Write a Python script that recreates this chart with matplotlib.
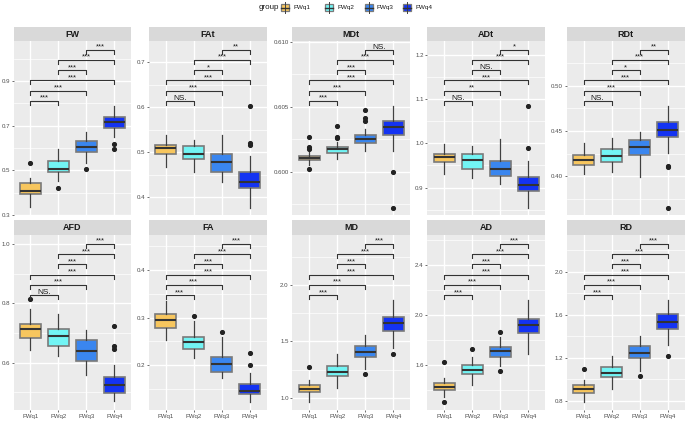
import matplotlib
matplotlib.use("Agg")
import matplotlib.pyplot as plt
import matplotlib.transforms as mtrans
from matplotlib.patches import Rectangle
from matplotlib.lines import Line2D

plt.rcParams["font.family"] = ["Liberation Sans", "DejaVu Sans"]

groups = ["FWq1", "FWq2", "FWq3", "FWq4"]
colors = ["#F7C65E", "#72F4F4", "#3A86EF", "#1433F2"]
pairs = [(1, 2), (1, 3), (1, 4), (2, 3), (2, 4), (3, 4)]

# box stats per group: (whislo, q1, median, q3, whishi)
FW_box = [(0.334, 0.394, 0.409, 0.441, 0.467), (0.452, 0.492, 0.506, 0.541, 0.595),
          (0.531, 0.583, 0.604, 0.630, 0.673), (0.650, 0.691, 0.716, 0.737, 0.788)]
FW_out = [[0.533], [0.419], [0.504], [0.618, 0.597]]
FW_sig = ["***", "***", "***", "***", "***", "***"]

FAt_box = [(0.467, 0.495, 0.510, 0.517, 0.538), (0.456, 0.484, 0.497, 0.513, 0.527),
           (0.434, 0.456, 0.478, 0.497, 0.539), (0.376, 0.421, 0.435, 0.456, 0.491)]
FAt_out = [[], [], [], [0.603, 0.521, 0.516]]
FAt_sig = ["NS.", "***", "***", "*", "***", "**"]

MDt_box = [(0.60054, 0.60085, 0.60105, 0.60118, 0.60147), (0.60100, 0.60144, 0.60172, 0.60190, 0.60228),
           (0.60157, 0.60221, 0.60247, 0.60278, 0.60324), (0.60157, 0.60278, 0.60340, 0.60388, 0.60504)]
MDt_out = [[0.60265, 0.60190, 0.60177, 0.60023], [0.60347, 0.60267, 0.60255],
           [0.60471, 0.60414, 0.60388], [0.59997, 0.59719]]
MDt_sig = ["***", "***", "***", "***", "***", "NS."]

ADt_box = [(0.930, 0.958, 0.968, 0.977, 0.998), (0.921, 0.943, 0.962, 0.975, 0.995),
           (0.909, 0.927, 0.942, 0.961, 1.010), (0.854, 0.893, 0.906, 0.924, 0.961)]
ADt_out = [[], [], [], [1.085, 0.990]]
ADt_sig = ["NS.", "**", "***", "NS.", "***", "*"]

RDt_box = [(0.4022, 0.4127, 0.4182, 0.4230, 0.4363), (0.4048, 0.4153, 0.4219, 0.4301, 0.4426),
           (0.3993, 0.4237, 0.4323, 0.4400, 0.4486), (0.4260, 0.4438, 0.4515, 0.4604, 0.4776)]
RDt_out = [[], [], [], [0.4110, 0.4098, 0.3650]]
RDt_sig = ["NS.", "***", "***", "*", "***", "**"]

AFD_box = [(0.643, 0.683, 0.714, 0.731, 0.781), (0.624, 0.656, 0.689, 0.714, 0.765),
           (0.559, 0.604, 0.641, 0.677, 0.710), (0.470, 0.499, 0.524, 0.552, 0.592)]
AFD_out = [[0.814], [], [], [0.725, 0.656, 0.647]]
AFD_sig = ["NS.", "***", "***", "***", "***", "***"]

FA_box = [(0.253, 0.278, 0.295, 0.308, 0.335), (0.215, 0.234, 0.249, 0.259, 0.292),
          (0.174, 0.187, 0.203, 0.217, 0.259), (0.123, 0.140, 0.147, 0.160, 0.183)]
FA_out = [[], [0.304], [0.269], [0.226, 0.201]]
FA_sig = ["***", "***", "***", "***", "***", "***"]

MD_box = [(0.965, 1.048, 1.080, 1.113, 1.157), (1.089, 1.195, 1.225, 1.281, 1.385),
          (1.255, 1.359, 1.403, 1.456, 1.556), (1.438, 1.595, 1.666, 1.716, 1.867)]
MD_out = [[1.270], [], [1.213], [1.388]]
MD_sig = ["***", "***", "***", "***", "***", "***"]

AD_box = [(1.350, 1.400, 1.429, 1.456, 1.502), (1.442, 1.530, 1.559, 1.602, 1.669),
          (1.594, 1.669, 1.712, 1.746, 1.824), (1.690, 1.856, 1.920, 1.973, 2.120)]
AD_out = [[1.624, 1.306], [1.728], [1.866, 1.554], []]
AD_sig = ["***", "***", "***", "***", "***", "***"]

RD_box = [(0.788, 0.869, 0.909, 0.943, 0.995), (0.909, 1.020, 1.057, 1.116, 1.212),
          (1.080, 1.200, 1.243, 1.312, 1.398), (1.322, 1.464, 1.535, 1.603, 1.739)]
RD_out = [[1.095], [], [1.033], [1.212]]
RD_sig = ["***", "***", "***", "***", "***", "***"]

# name, boxes, outliers, labels, ylim, yticks, ytick labels
panels = [
    ("FW", FW_box, FW_out, FW_sig, (0.298, 1.079), [0.3, 0.5, 0.7, 0.9], ["0.3", "0.5", "0.7", "0.9"]),
    ("FAt", FAt_box, FAt_out, FAt_sig, (0.360, 0.747), [0.4, 0.5, 0.6, 0.7], ["0.4", "0.5", "0.6", "0.7"]),
    ("MDt", MDt_box, MDt_out, MDt_sig, (0.59663, 0.61005), [0.600, 0.605, 0.610], ["0.600", "0.605", "0.610"]),
    ("ADt", ADt_box, ADt_out, ADt_sig, (0.837, 1.232), [0.9, 1.0, 1.1, 1.2], ["0.9", "1.0", "1.1", "1.2"]),
    ("RDt", RDt_box, RDt_out, RDt_sig, (0.3569, 0.5494), [0.40, 0.45, 0.50], ["0.40", "0.45", "0.50"]),
    ("AFD", AFD_box, AFD_out, AFD_sig, (0.440, 1.0315), [0.6, 0.8, 1.0], ["0.6", "0.8", "1.0"]),
    ("FA", FA_box, FA_out, FA_sig, (0.1065, 0.4726), [0.2, 0.3, 0.4], ["0.2", "0.3", "0.4"]),
    ("MD", MD_box, MD_out, MD_sig, (0.891, 2.4437), [1.0, 1.5, 2.0], ["1.0", "1.5", "2.0"]),
    ("AD", AD_box, AD_out, AD_sig, (1.2427, 2.6427), [1.6, 2.0, 2.4], ["1.6", "2.0", "2.4"]),
    ("RD", RD_box, RD_out, RD_sig, (0.7136, 2.341), [0.8, 1.2, 1.6, 2.0], ["0.8", "1.2", "1.6", "2.0"]),
]

W, H = 685, 421
fig = plt.figure(figsize=(W / 100, H / 100), dpi=100)

col_left = [13.5, 149, 292.3, 427.3, 566.7]
col_w = 117.8
rows = [(27, 41, 215.3), (220, 235, 410)]  # strip top, panel top, panel bottom
bracket_y0, bracket_step = 0.657, 0.0586

for idx, (name, boxes, outs, sigs, ylim, yt, ytl) in enumerate(panels):
    r, c = divmod(idx, 5)
    s_top, p_top, p_bot = rows[r]
    x0 = col_left[c]
    ax = fig.add_axes([x0 / W, 1 - p_bot / H, col_w / W, (p_bot - p_top) / H])
    sax = fig.add_axes([x0 / W, 1 - p_top / H, col_w / W, (p_top - s_top) / H])
    sax.set_facecolor("#D9D9D9")
    sax.set_xticks([]); sax.set_yticks([])
    for sp in sax.spines.values():
        sp.set_visible(False)
    sax.text(0.5, 0.48, name, ha="center", va="center", fontsize=6.5,
             fontweight="bold", color="#1A1A1A", transform=sax.transAxes)

    ax.set_facecolor("#EBEBEB")
    for sp in ax.spines.values():
        sp.set_visible(False)
    ax.set_xlim(0.4, 4.6)
    ax.set_ylim(*ylim)
    step = yt[1] - yt[0]
    minors = [yt[0] - step / 2] + [t + step / 2 for t in yt]
    minors = [m for m in minors if ylim[0] <= m <= ylim[1]]
    for m in minors:
        ax.axhline(m, color="white", lw=0.5, zorder=0)
    for t in yt:
        ax.axhline(t, color="white", lw=1.0, zorder=0)
    for k in range(1, 5):
        ax.axvline(k, color="white", lw=1.0, zorder=0)

    stats = []
    for (lo, q1, med, q3, hi), fl in zip(boxes, outs):
        stats.append(dict(whislo=lo, q1=q1, med=med, q3=q3, whishi=hi, fliers=fl))
    bp = ax.bxp(stats, positions=[1, 2, 3, 4], widths=0.75, patch_artist=True,
                showcaps=False, manage_ticks=False,
                boxprops=dict(edgecolor="#7A7A7A", linewidth=1.2),
                medianprops=dict(color="#333333", linewidth=1.5),
                whiskerprops=dict(color="#404040", linewidth=0.9),
                flierprops=dict(marker="o", markerfacecolor="#222222",
                                markeredgecolor="#222222", markersize=2.7))
    for patch, col in zip(bp["boxes"], colors):
        patch.set_facecolor(col)
        patch.set_zorder(2)

    trans = mtrans.blended_transform_factory(ax.transData, ax.transAxes)
    tick = 4.0 / (p_bot - p_top)
    for k, ((a, b), lab) in enumerate(zip(pairs, sigs)):
        yb = bracket_y0 + k * bracket_step
        ax.plot([a, a, b, b], [yb - tick, yb, yb, yb - tick], color="#333333",
                lw=0.8, transform=trans, clip_on=False, zorder=3)
        ax.annotate(lab, xy=((a + b) / 2, yb), xycoords=trans, xytext=(0, 0.8),
                    textcoords="offset points", ha="center", va="baseline",
                    fontsize=6 if lab == "NS." else 5.5, color="#1A1A1A")

    ax.set_yticks(yt)
    ax.set_yticklabels(ytl)
    ax.tick_params(axis="y", length=1.6, width=0.5, color="#333333", pad=1,
                   labelsize=4.4, labelcolor="#4D4D4D")
    if r == 1:
        ax.set_xticks([1, 2, 3, 4])
        ax.set_xticklabels(groups)
        ax.tick_params(axis="x", length=1.6, width=0.5, color="#333333", pad=1.5,
                       labelsize=4.4, labelcolor="#4D4D4D")
    else:
        ax.set_xticks([])

# legend on top
ly = 1 - 7.5 / H
fig.text(259 / W, ly, "group", ha="left", va="center", fontsize=5.8, color="#1A1A1A")
key_x = [285, 329, 368.7, 407]
for kx, col, g in zip(key_x, colors, groups):
    kw, kh = 8.0 / W, 6.5 / H
    fig.add_artist(Line2D([kx / W, kx / W], [ly - 5.5 / H, ly + 5.5 / H],
                          color="#404040", lw=0.7, transform=fig.transFigure))
    fig.add_artist(Rectangle((kx / W - kw / 2, ly - kh / 2), kw, kh, facecolor=col,
                             edgecolor="#7A7A7A", lw=0.9, transform=fig.transFigure))
    fig.add_artist(Line2D([kx / W - kw / 2, kx / W + kw / 2], [ly, ly],
                          color="#333333", lw=1.0, transform=fig.transFigure))
    fig.text((kx + 8) / W, ly, g, ha="left", va="center", fontsize=4.6, color="#1A1A1A")

fig.savefig("out.png", dpi=100, facecolor="white")
